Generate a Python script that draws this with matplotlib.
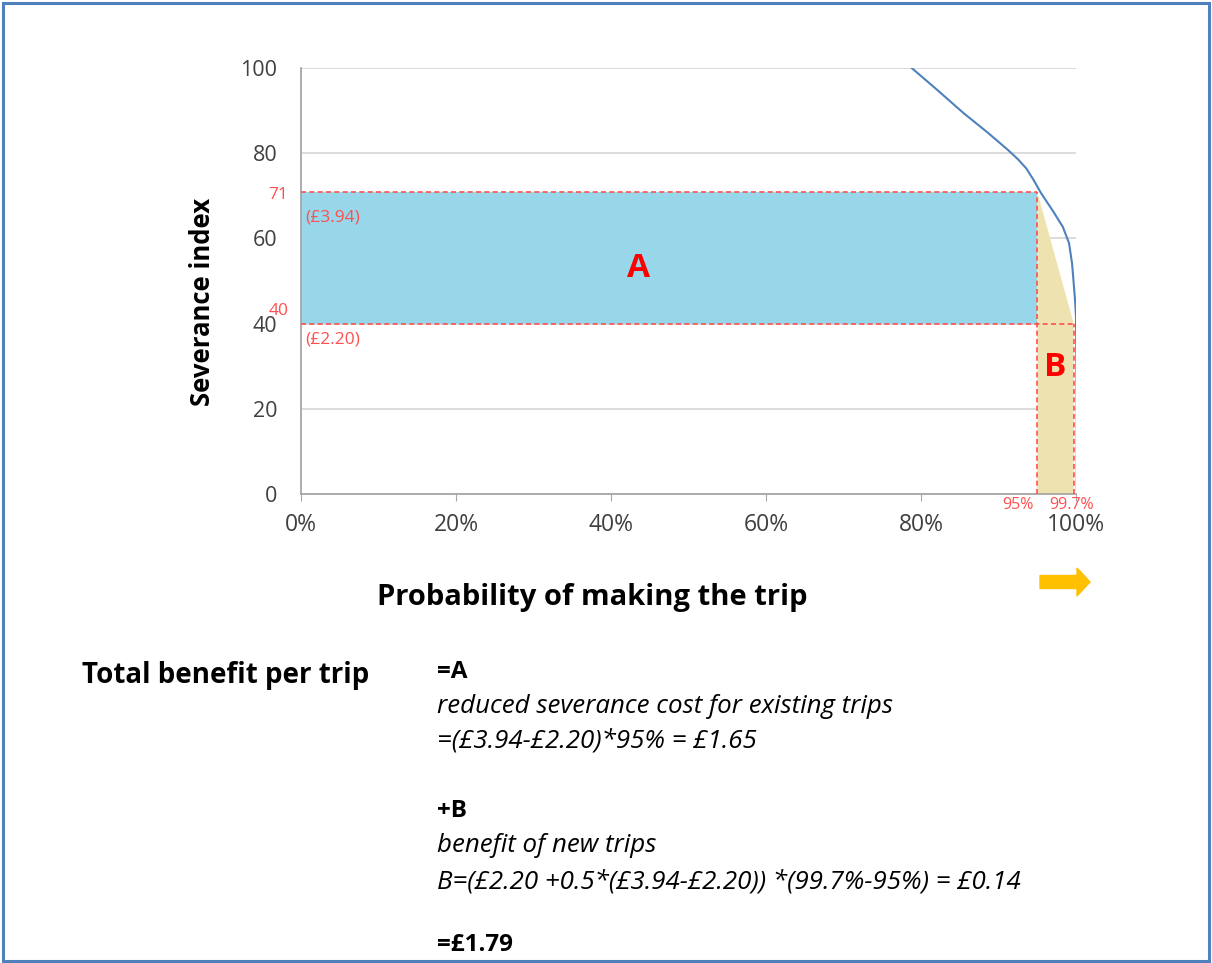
import numpy as np
from matplotlib import pyplot as plt
from matplotlib.patches import Rectangle, Polygon, FancyArrow

# probability of making the trip (fraction) vs severance index
curve_p = [0.788, 0.82, 0.855, 0.885, 0.912, 0.925, 0.936, 0.945, 0.955, 0.970, 0.983, 0.991,
           0.995, 0.997, 0.999, 1.000, 1.001, 1.001]
curve_s = [100, 95, 89.4, 85, 80.8, 78.6, 76.4, 73.8, 70.6, 66.5, 62.7, 58.9,
           54, 49.5, 45, 41.5, 20, 1]

p_before = 0.95
p_after = 0.997
s_before = 71
s_after = 40
cost_before = "(£3.94)"
cost_after = "(£2.20)"

x_ticks = [0, 0.2, 0.4, 0.6, 0.8, 1.0]
x_tick_labels = ["0%", "20%", "40%", "60%", "80%", "100%"]
y_ticks = [0, 20, 40, 60, 80, 100]

FONT = ["Open Sans", "DejaVu Sans"]
RED = "#FF0000"
LRED = "#FF5050"

plt.rcParams['font.family'] = FONT

fig = plt.figure(figsize=(12.12, 9.63), dpi=100)
ax = fig.add_axes([301 / 1212, 1 - 494 / 963, 775 / 1212, 426 / 963])

# shaded areas
ax.add_patch(Rectangle((0, s_after), p_before, s_before - s_after,
                       facecolor="#97D7E9", edgecolor="none", zorder=1))
ax.add_patch(Polygon([(p_before, s_before), (p_after, s_after), (p_after, 0), (p_before, 0)],
                     closed=True, facecolor="#EEE2B0", edgecolor="none", zorder=1))

# dashed guide lines
kw = dict(color=LRED, linestyle=(0, (3, 2)), linewidth=1.2, zorder=3)
ax.plot([0, p_before], [s_before, s_before], **kw)
ax.plot([0, p_after], [s_after, s_after], **kw)
ax.plot([p_before, p_before], [0, s_before], **kw)
ax.plot([p_after, p_after], [0, s_after], **kw)

ax.plot(curve_p, curve_s, color="#4F81BD", linewidth=1.5, zorder=4)

ax.set_xlim(0, 1)
ax.set_ylim(0, 100)
ax.set_xticks(x_ticks)
ax.set_xticklabels(x_tick_labels)
ax.set_yticks(y_ticks)
ax.yaxis.grid(True, color="#D9D9D9", linewidth=1.3)
ax.set_axisbelow(True)
for side in ["top", "right"]:
    ax.spines[side].set_visible(False)
for side in ["left", "bottom"]:
    ax.spines[side].set_color("#A6A6A6")
    ax.spines[side].set_linewidth(1.3)
ax.tick_params(axis="x", length=5, color="#A6A6A6", labelsize=16.5, labelcolor="#404040", pad=9)
ax.tick_params(axis="y", length=0, labelsize=15.5, labelcolor="#404040", pad=17)

ax.set_ylabel("Severance index", fontsize=18.5, fontweight="bold", va="center")
ax.yaxis.set_label_coords((202 - 301) / 775, (494 - 302) / 426)
ax.set_xlabel("Probability of making the trip", fontsize=21, fontweight="bold", va="center")
ax.xaxis.set_label_coords((592 - 301) / 775, (494 - 597) / 426)

# annotations
ax.text(-0.016, 70.3, str(s_before), color=LRED, fontsize=12.5, ha="right", va="center")
ax.text(-0.016, 43, str(s_after), color=LRED, fontsize=12.5, ha="right", va="center")
ax.text(0.006, 65, cost_before, color=LRED, fontsize=12.5, ha="left", va="center")
ax.text(0.006, 36.2, cost_after, color=LRED, fontsize=12.5, ha="left", va="center")
ax.text(0.435, 53, "A", color=RED, fontsize=24, fontweight="bold", ha="center", va="center")
ax.text((p_before + p_after) / 2, 29.8, "B", color=RED, fontsize=24, fontweight="bold", ha="center", va="center")
ax.text(p_before - 0.005, -2.6, "95%", color=LRED, fontsize=11.5, ha="right", va="center")
ax.text(0.994, -2.6, "99.7%", color=LRED, fontsize=11.5, ha="center", va="center")

# orange arrow below 100%
fig.patches.append(FancyArrow(1040 / 1212, 1 - 582 / 963, 50 / 1212, 0, width=13 / 963,
                              head_width=28 / 963, head_length=13 / 1212, color="#FFC000",
                              length_includes_head=True, transform=fig.transFigure, figure=fig))

# text block (baselines)
def line(x, y_px, s, **kw):
    fig.text(x, 1 - y_px / 963, s, va="baseline", **kw)


x0 = 437 / 1212
ITAL = 18.6
line(82 / 1212, 683, "Total benefit per trip", fontsize=20, fontweight="bold")
line(x0, 678, "=A", fontsize=17.5, fontweight="bold")
line(x0, 713, "reduced severance cost for existing trips", fontsize=ITAL, style="italic")
line(x0, 747, "=(£3.94-£2.20)*95% = £1.65", fontsize=ITAL, style="italic")
line(x0, 817, "+B", fontsize=17.5, fontweight="bold")
line(x0, 852, "benefit of new trips", fontsize=ITAL, style="italic")
line(x0, 888, "B=(£2.20 +0.5*(£3.94-£2.20)) *(99.7%-95%) = £0.14", fontsize=ITAL, style="italic")
line(x0, 951, "=£1.79", fontsize=17.5, fontweight="bold")

# blue frame
fig.patches.append(Rectangle((3 / 1212, 2 / 963), 1206 / 1212, 958 / 963, fill=False,
                             edgecolor="#4F81BD", linewidth=2.2, transform=fig.transFigure, figure=fig))

fig.savefig("out.png", dpi=100)
